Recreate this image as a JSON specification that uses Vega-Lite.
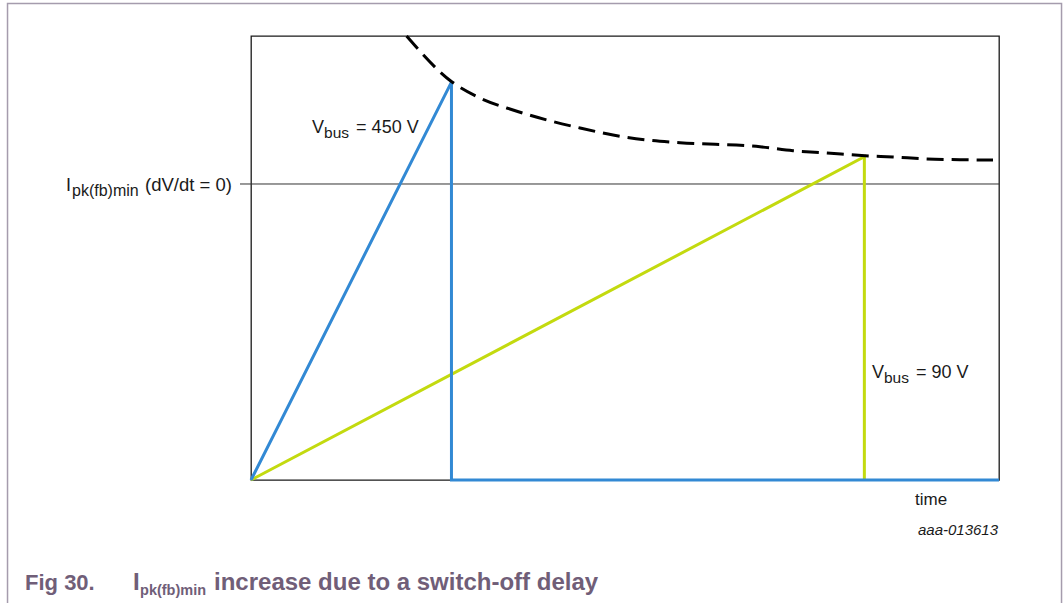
{
  "$schema": "https://vega.github.io/schema/vega-lite/v6.json",
  "width": 748,
  "height": 444,
  "autosize": {"type": "none"},
  "padding": {"left": 251, "top": 36, "right": 64, "bottom": 123},
  "background": "white",
  "config": {
    "view": {"stroke": "#1a1a1a", "strokeWidth": 1.3},
    "text": {"font": "Liberation Sans", "fontSize": 18, "color": "#1a1a1a", "align": "left", "baseline": "alphabetic"}
  },
  "datasets": {
    "frame": [{"t": -32.55, "t2": 108.36, "i": 107.32, "i2": -30}],
    "level": [{"name": "Ipk(fb)min (dV/dt = 0)", "t": -1.47, "t2": 100, "i": 66.67}],
    "traces": [
      {"series": "Vbus = 90 V", "ord": 1, "t": 0, "i": 0},
      {"series": "Vbus = 90 V", "ord": 2, "t": 82.0, "i": 72.8},
      {"series": "Vbus = 90 V", "ord": 3, "t": 82.0, "i": 0},
      {"series": "Vbus = 450 V", "ord": 1, "t": 0, "i": 0},
      {"series": "Vbus = 450 V", "ord": 2, "t": 26.8, "i": 89.6},
      {"series": "Vbus = 450 V", "ord": 3, "t": 26.8, "i": 0},
      {"series": "Vbus = 450 V", "ord": 4, "t": 100, "i": 0}
    ],
    "limit": [
      {"ord": 1, "t": 20.8, "i": 100},
      {"ord": 2, "t": 26.83, "i": 89.71},
      {"ord": 3, "t": 30.61, "i": 86.04},
      {"ord": 4, "t": 35.03, "i": 83.33},
      {"ord": 5, "t": 39.57, "i": 81.08},
      {"ord": 6, "t": 43.98, "i": 79.28},
      {"ord": 7, "t": 48.4, "i": 77.7},
      {"ord": 8, "t": 52.94, "i": 76.58},
      {"ord": 9, "t": 57.35, "i": 75.97},
      {"ord": 10, "t": 68.05, "i": 75.07},
      {"ord": 11, "t": 72.46, "i": 74.17},
      {"ord": 12, "t": 77.01, "i": 73.65},
      {"ord": 13, "t": 82.09, "i": 73.04},
      {"ord": 14, "t": 85.83, "i": 72.75},
      {"ord": 15, "t": 90.37, "i": 72.3},
      {"ord": 16, "t": 94.79, "i": 72.14},
      {"ord": 17, "t": 99.2, "i": 72.07}
    ],
    "vlabels": [
      {"t": 8.17, "i": 78.15, "head": "V", "sub": "bus", "tail": "= 450 V"},
      {"t": 83.02, "i": 22.97, "head": "V", "sub": "bus", "tail": "= 90 V"}
    ],
    "ilabel": [{"t": -24.73, "i": 65.09, "head": "I", "sub": "pk(fb)min", "tail": "(dV/dt = 0)"}],
    "xtitle": [{"t": 88.77, "i": -5.63, "text": "time"}],
    "code": [{"t": 99.87, "i": -12.39, "text": "aaa-013613"}],
    "caption": [{"t": -30.21, "i": -24.77, "fig": "Fig 30.", "head": "I", "sub": "pk(fb)min", "tail": "increase due to a switch-off delay"}]
  },
  "layer": [
    {
      "data": {"name": "frame"},
      "mark": {"type": "rect", "fill": null, "fillOpacity": 0, "stroke": "#a59cad", "strokeWidth": 1.5},
      "encoding": {
        "x": {"field": "t", "type": "quantitative", "scale": {"domain": [0, 100], "nice": false, "zero": false}, "axis": null},
        "x2": {"field": "t2"},
        "y": {"field": "i", "type": "quantitative", "scale": {"domain": [0, 100], "nice": false, "zero": false}, "axis": null},
        "y2": {"field": "i2"}
      }
    },
    {
      "data": {"name": "level"},
      "mark": {"type": "rule", "color": "#333333", "strokeWidth": 1},
      "encoding": {
        "x": {"field": "t", "type": "quantitative"},
        "x2": {"field": "t2"},
        "y": {"field": "i", "type": "quantitative"}
      }
    },
    {
      "data": {"name": "traces"},
      "mark": {"type": "line", "strokeWidth": 3, "strokeJoin": "miter", "strokeCap": "butt"},
      "encoding": {
        "x": {"field": "t", "type": "quantitative"},
        "y": {"field": "i", "type": "quantitative"},
        "order": {"field": "ord", "type": "quantitative"},
        "color": {"field": "series", "type": "nominal", "scale": {"domain": ["Vbus = 90 V", "Vbus = 450 V"], "range": ["#c3da0f", "#3289d4"]}, "legend": null}
      }
    },
    {
      "data": {"name": "limit"},
      "mark": {"type": "line", "color": "#000000", "strokeWidth": 3, "strokeDash": [17, 8], "interpolate": "monotone"},
      "encoding": {
        "x": {"field": "t", "type": "quantitative"},
        "y": {"field": "i", "type": "quantitative"},
        "order": {"field": "ord", "type": "quantitative"}
      }
    },
    {
      "data": {"name": "vlabels"},
      "mark": {"type": "text"},
      "encoding": {"x": {"field": "t", "type": "quantitative"}, "y": {"field": "i", "type": "quantitative"}, "text": {"field": "head"}}
    },
    {
      "data": {"name": "vlabels"},
      "mark": {"type": "text", "fontSize": 15.5, "dx": 12, "dy": 5},
      "encoding": {"x": {"field": "t", "type": "quantitative"}, "y": {"field": "i", "type": "quantitative"}, "text": {"field": "sub"}}
    },
    {
      "data": {"name": "vlabels"},
      "mark": {"type": "text", "dx": 44},
      "encoding": {"x": {"field": "t", "type": "quantitative"}, "y": {"field": "i", "type": "quantitative"}, "text": {"field": "tail"}}
    },
    {
      "data": {"name": "ilabel"},
      "mark": {"type": "text"},
      "encoding": {"x": {"field": "t", "type": "quantitative"}, "y": {"field": "i", "type": "quantitative"}, "text": {"field": "head"}}
    },
    {
      "data": {"name": "ilabel"},
      "mark": {"type": "text", "fontSize": 16, "dx": 6, "dy": 5},
      "encoding": {"x": {"field": "t", "type": "quantitative"}, "y": {"field": "i", "type": "quantitative"}, "text": {"field": "sub"}}
    },
    {
      "data": {"name": "ilabel"},
      "mark": {"type": "text", "dx": 79, "fontSize": 18.5},
      "encoding": {"x": {"field": "t", "type": "quantitative"}, "y": {"field": "i", "type": "quantitative"}, "text": {"field": "tail"}}
    },
    {
      "data": {"name": "xtitle"},
      "mark": {"type": "text", "fontSize": 17},
      "encoding": {"x": {"field": "t", "type": "quantitative"}, "y": {"field": "i", "type": "quantitative"}, "text": {"field": "text"}}
    },
    {
      "data": {"name": "code"},
      "mark": {"type": "text", "fontSize": 15, "fontStyle": "italic", "align": "right"},
      "encoding": {"x": {"field": "t", "type": "quantitative"}, "y": {"field": "i", "type": "quantitative"}, "text": {"field": "text"}}
    },
    {
      "data": {"name": "caption"},
      "mark": {"type": "text", "fontSize": 22, "fontWeight": "bold", "color": "#705e78"},
      "encoding": {"x": {"field": "t", "type": "quantitative"}, "y": {"field": "i", "type": "quantitative"}, "text": {"field": "fig"}}
    },
    {
      "data": {"name": "caption"},
      "mark": {"type": "text", "fontSize": 24, "fontWeight": "bold", "color": "#705e78", "dx": 108},
      "encoding": {"x": {"field": "t", "type": "quantitative"}, "y": {"field": "i", "type": "quantitative"}, "text": {"field": "head"}}
    },
    {
      "data": {"name": "caption"},
      "mark": {"type": "text", "fontSize": 14.5, "fontWeight": "bold", "color": "#705e78", "dx": 115, "dy": 5},
      "encoding": {"x": {"field": "t", "type": "quantitative"}, "y": {"field": "i", "type": "quantitative"}, "text": {"field": "sub"}}
    },
    {
      "data": {"name": "caption"},
      "mark": {"type": "text", "fontSize": 24, "fontWeight": "bold", "color": "#705e78", "dx": 189},
      "encoding": {"x": {"field": "t", "type": "quantitative"}, "y": {"field": "i", "type": "quantitative"}, "text": {"field": "tail"}}
    }
  ]
}
